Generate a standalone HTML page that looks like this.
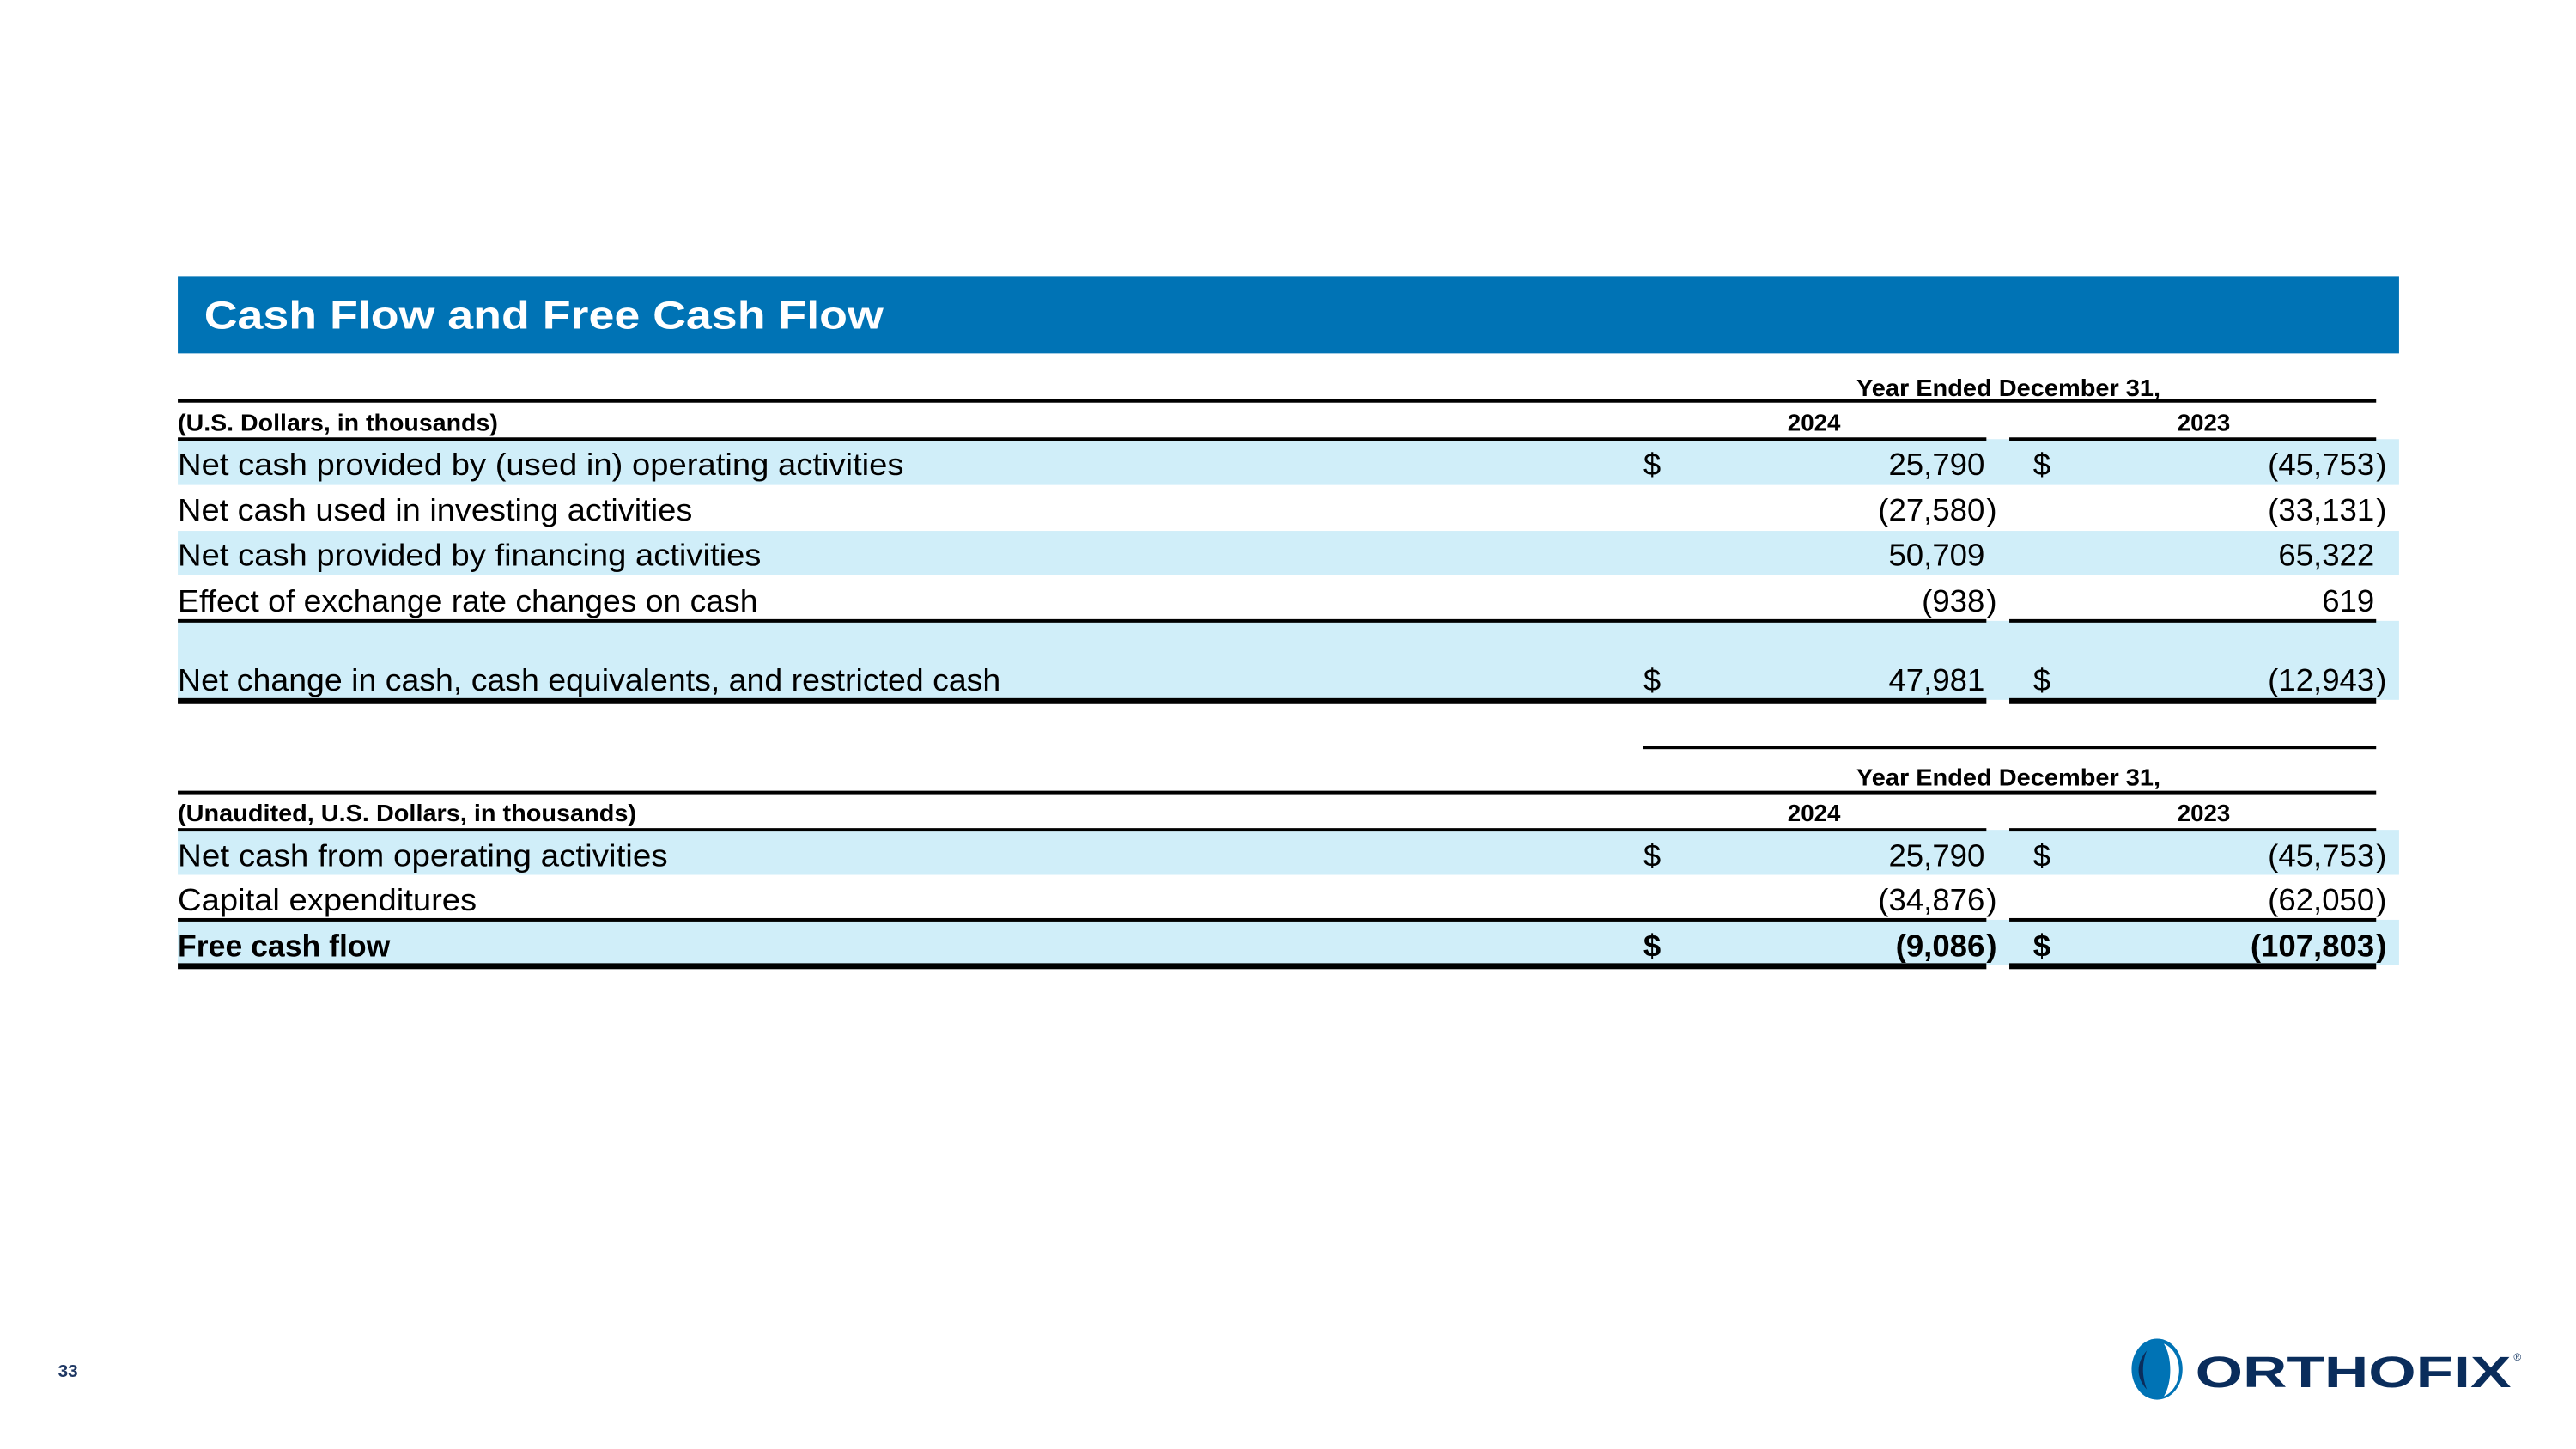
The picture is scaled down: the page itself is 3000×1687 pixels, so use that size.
<!DOCTYPE html>
<html><head><meta charset="utf-8"><style>
html,body{margin:0;padding:0;background:#fff;}
svg{display:block;}
text{font-family:"Liberation Sans",sans-serif;fill:#000;}
.lbl{font-size:37px;}
.hd{font-size:28px;font-weight:bold;}
.num{font-size:37px;text-anchor:end;}
</style></head><body>
<svg width="3000" height="1687" viewBox="0 0 3033 1706">
<rect x="209" y="325" width="2616" height="91" fill="#0073b5"/>
<text x="240" y="387" style="font-size:46px;font-weight:bold;fill:#fff" textLength="800" lengthAdjust="spacingAndGlyphs">Cash Flow and Free Cash Flow</text>

<g fill="#d0eef9">
<rect x="209" y="517" width="2616" height="54"/>
<rect x="209" y="625" width="2616" height="52"/>
<rect x="209" y="731" width="2616" height="93"/>
<rect x="209" y="977" width="2616" height="53"/>
<rect x="209" y="1083" width="2616" height="53"/>
</g>

<text class="hd" x="2365" y="466" text-anchor="middle" textLength="358" lengthAdjust="spacingAndGlyphs">Year Ended December 31,</text>
<rect x="209" y="470" width="2589" height="4" fill="#000"/>
<text class="hd" x="209" y="507" textLength="377" lengthAdjust="spacingAndGlyphs">(U.S. Dollars, in thousands)</text>
<text class="hd" x="2136" y="507" text-anchor="middle">2024</text>
<text class="hd" x="2595" y="507" text-anchor="middle">2023</text>
<rect x="209" y="515" width="2130" height="4" fill="#000"/>
<rect x="2366" y="515" width="432" height="4" fill="#000"/>

<g>
<text class="lbl" x="209" y="559" textLength="855" lengthAdjust="spacingAndGlyphs">Net cash provided by (used in) operating activities</text>
<text class="lbl" x="1935" y="559">$</text><text class="num" x="2337" y="559">25,790</text>
<text class="lbl" x="2394" y="559">$</text><text class="num" x="2796" y="559">(45,753</text><text class="lbl" x="2798" y="559">)</text>
</g>
<g>
<text class="lbl" x="209" y="613" textLength="606" lengthAdjust="spacingAndGlyphs">Net cash used in investing activities</text>
<text class="num" x="2337" y="613">(27,580</text><text class="lbl" x="2339" y="613">)</text>
<text class="num" x="2796" y="613">(33,131</text><text class="lbl" x="2798" y="613">)</text>
</g>
<g>
<text class="lbl" x="209" y="666" textLength="687" lengthAdjust="spacingAndGlyphs">Net cash provided by financing activities</text>
<text class="num" x="2337" y="666">50,709</text>
<text class="num" x="2796" y="666">65,322</text>
</g>
<g>
<text class="lbl" x="209" y="720" textLength="683" lengthAdjust="spacingAndGlyphs">Effect of exchange rate changes on cash</text>
<text class="num" x="2337" y="720">(938</text><text class="lbl" x="2339" y="720">)</text>
<text class="num" x="2796" y="720">619</text>
</g>
<rect x="209" y="729" width="2130" height="4" fill="#000"/>
<rect x="2366" y="729" width="432" height="4" fill="#000"/>
<g>
<text class="lbl" x="209" y="813" textLength="969" lengthAdjust="spacingAndGlyphs">Net change in cash, cash equivalents, and restricted cash</text>
<text class="lbl" x="1935" y="813">$</text><text class="num" x="2337" y="813">47,981</text>
<text class="lbl" x="2394" y="813">$</text><text class="num" x="2796" y="813">(12,943</text><text class="lbl" x="2798" y="813">)</text>
</g>
<rect x="209" y="822" width="2130" height="7" fill="#000"/>
<rect x="2366" y="822" width="432" height="7" fill="#000"/>

<rect x="1935" y="878" width="863" height="4" fill="#000"/>
<text class="hd" x="2365" y="925" text-anchor="middle" textLength="358" lengthAdjust="spacingAndGlyphs">Year Ended December 31,</text>
<rect x="209" y="931" width="2589" height="4" fill="#000"/>
<text class="hd" x="209" y="967" textLength="540" lengthAdjust="spacingAndGlyphs">(Unaudited, U.S. Dollars, in thousands)</text>
<text class="hd" x="2136" y="967" text-anchor="middle">2024</text>
<text class="hd" x="2595" y="967" text-anchor="middle">2023</text>
<rect x="209" y="975" width="2130" height="4" fill="#000"/>
<rect x="2366" y="975" width="432" height="4" fill="#000"/>
<g>
<text class="lbl" x="209" y="1020" textLength="577" lengthAdjust="spacingAndGlyphs">Net cash from operating activities</text>
<text class="lbl" x="1935" y="1020">$</text><text class="num" x="2337" y="1020">25,790</text>
<text class="lbl" x="2394" y="1020">$</text><text class="num" x="2796" y="1020">(45,753</text><text class="lbl" x="2798" y="1020">)</text>
</g>
<g>
<text class="lbl" x="209" y="1072" textLength="352" lengthAdjust="spacingAndGlyphs">Capital expenditures</text>
<text class="num" x="2337" y="1072">(34,876</text><text class="lbl" x="2339" y="1072">)</text>
<text class="num" x="2796" y="1072">(62,050</text><text class="lbl" x="2798" y="1072">)</text>
</g>
<rect x="209" y="1081" width="2130" height="4" fill="#000"/>
<rect x="2366" y="1081" width="432" height="4" fill="#000"/>
<g style="font-weight:bold">
<text class="lbl" x="209" y="1126" textLength="250" lengthAdjust="spacingAndGlyphs" style="font-weight:bold">Free cash flow</text>
<text class="lbl" x="1935" y="1126" style="font-weight:bold">$</text><text class="num" x="2337" y="1126" style="font-weight:bold">(9,086</text><text class="lbl" x="2339" y="1126" style="font-weight:bold">)</text>
<text class="lbl" x="2394" y="1126" style="font-weight:bold">$</text><text class="num" x="2796" y="1126" style="font-weight:bold">(107,803</text><text class="lbl" x="2798" y="1126" style="font-weight:bold">)</text>
</g>
<rect x="209" y="1134" width="2130" height="7" fill="#000"/>
<rect x="2366" y="1134" width="432" height="7" fill="#000"/>

<text x="68" y="1621" style="font-size:21px;font-weight:bold;fill:#1f3864">33</text>
<g>
<ellipse cx="2540" cy="1612" rx="30" ry="36" fill="#0073b5"/>
<path d="M2548 1582 C2572 1592 2572 1634 2548 1644 C2558 1628 2558 1598 2548 1582 Z" fill="#fff"/>
<path d="M2528 1590 C2515 1605 2515 1622 2528 1636 C2522 1620 2522 1605 2528 1590 Z" fill="#0a2d5c"/>
<text x="2585" y="1633" textLength="372" lengthAdjust="spacingAndGlyphs" style="font-size:52px;font-weight:900;fill:#0a2d5c">ORTHOFIX</text>
<text x="2960" y="1602" style="font-size:12px;fill:#0a2d5c">®</text>
</g>
</svg>
</body></html>
